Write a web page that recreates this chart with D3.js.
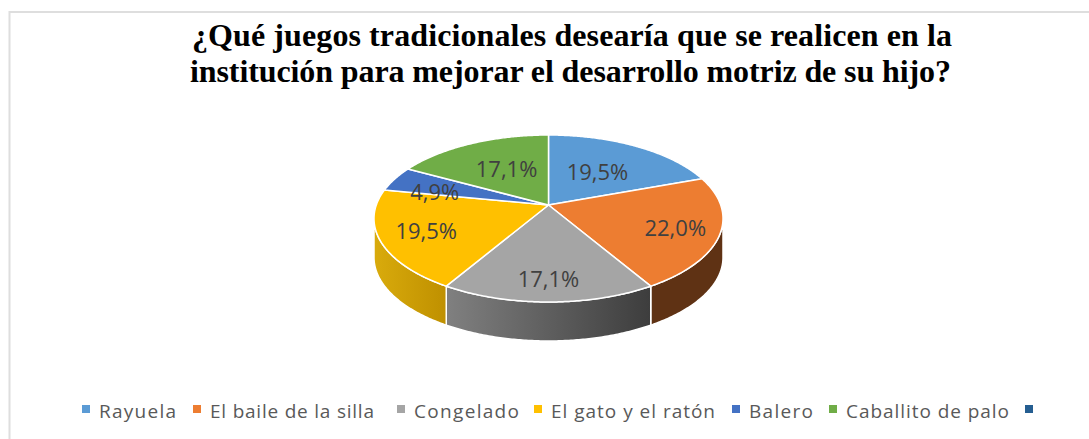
<!DOCTYPE html>
<html>

<head>
    <meta charset="UTF-8">
    <style>
        html, body { margin: 0; padding: 0; background: #fff; }
        svg { display: block; }
        .title { font-family: "Liberation Serif", serif; font-weight: bold; font-size: 32px; fill: #000; text-anchor: start; }
        .pct { font-family: "Open Sans", sans-serif; font-size: 22px; fill: #404040; text-anchor: middle; }
        .legend { font-family: "Open Sans", sans-serif; font-size: 19px; fill: #595959; }
    </style>
</head>

<body>
    <svg></svg>
    <script src="https://d3js.org/d3.v7.min.js"></script>

    <script>
        let width = 1089, height = 439;

        // chart values
        const categories = ["Rayuela", "El baile de la silla", "Congelado", "El gato y el ratón", "Balero", "Caballito de palo", ""];
        const percents = [19.5, 22.0, 17.1, 19.5, 4.9, 17.1, 0];
        const labels = ["19,5%", "22,0%", "17,1%", "19,5%", "4,9%", "17,1%"];
        const colors = ["#5b9bd5", "#ed7d31", "#a5a5a5", "#ffc000", "#4472c4", "#70ad47", "#255e91"];
        const titleLines = ["¿Qué juegos tradicionales desearía que se realicen en la", "institución para mejorar el desarrollo motriz de su hijo?"];

        // where the label sits along the slice radius, plus a small nudge down
        const labelRadius = [0.53, 0.75, 0.78, 0.74, 0.73, 0.51];
        const labelNudge = [0, 2, 1, 0, 6, -3];

        const legendX = [82, 193, 397, 534, 732, 829, 1025];
        const legendW = [77, 164, 105, 164, 64, 163, 0];

        let svg = d3.select("svg").attr("width", width).attr("height", height);

        // gradients for the visible side walls
        let defs = svg.append("defs");
        function sideGradient(id, from, to) {
            let g = defs.append("linearGradient").attr("id", id);
            g.append("stop").attr("offset", "0%").attr("stop-color", from);
            g.append("stop").attr("offset", "100%").attr("stop-color", to);
        }
        sideGradient("sideYellow", "#d9ab0c", "#bf9000");
        sideGradient("sideGray", "#808080", "#3d3d3d");
        sideGradient("sideOrange", "#5f3214", "#5f3214");
        const sideFill = { 1: "url(#sideOrange)", 2: "url(#sideGray)", 3: "url(#sideYellow)" };

        // frame, open on the right and at the bottom of the crop
        svg.append("rect")
            .attr("x", 9.5).attr("y", 12)
            .attr("width", width + 20).attr("height", height + 20)
            .attr("fill", "#fff").attr("stroke", "#dedede").attr("stroke-width", 2);

        // title
        svg.selectAll(".title")
            .data(titleLines)
            .enter()
            .append("text")
            .attr("class", "title")
            .attr("x", (d, i) => i == 0 ? 192 : 190)
            .attr("y", (d, i) => 46 + i * 36)
            .attr("textLength", (d, i) => i == 0 ? 760 : 761)
            .attr("lengthAdjust", "spacing")
            .text(d => d);

        // perspective tilt of the pie disc
        const cx = 548.5, cy = 205, a = 172.2, b = 81.3, k = 0.1617, depth = 39;
        function project(angle, r, drop) {
            let u = r * Math.sin(angle), v = -r * Math.cos(angle), w = 1 - k * v;
            return [cx + a * u / w, cy + b * v / w + (drop || 0)];
        }

        let pie = d3.pie().sort(null).value(d => d)(percents.slice(0, 6));
        let line = d3.line();

        function arcPoints(start, end, drop) {
            let n = Math.max(2, Math.ceil((end - start) / 0.01));
            return d3.range(n + 1).map(i => project(start + (end - start) * i / n, 1, drop));
        }

        // side walls, only the front part of the rim shows
        let rimStart = Math.PI / 2 + Math.asin(k), rimEnd = 3 * Math.PI / 2 - Math.asin(k);
        svg.append("g").attr("id", "sides")
            .selectAll("path")
            .data(pie.filter(d => d.endAngle > rimStart && d.startAngle < rimEnd))
            .enter()
            .append("path")
            .attr("d", d => {
                let s = Math.max(d.startAngle, rimStart), e = Math.min(d.endAngle, rimEnd);
                return line(arcPoints(s, e, 0).concat(arcPoints(s, e, depth).reverse())) + "Z";
            })
            .attr("fill", d => sideFill[d.index])
            .attr("stroke", "#fff")
            .attr("stroke-width", 1.5);

        // top of the pie
        svg.append("g").attr("id", "slices")
            .selectAll("path")
            .data(pie)
            .enter()
            .append("path")
            .attr("d", d => line([project(0, 0)].concat(arcPoints(d.startAngle, d.endAngle, 0))) + "Z")
            .attr("fill", d => colors[d.index])
            .attr("stroke", "#fff")
            .attr("stroke-width", 1.5)
            .attr("stroke-linejoin", "round");

        // value labels
        svg.append("g").attr("id", "labels")
            .selectAll("text")
            .data(pie)
            .enter()
            .append("text")
            .attr("class", "pct")
            .attr("x", d => project((d.startAngle + d.endAngle) / 2, labelRadius[d.index])[0])
            .attr("y", d => project((d.startAngle + d.endAngle) / 2, labelRadius[d.index])[1] + 8 + labelNudge[d.index])
            .text(d => labels[d.index]);

        // legend
        let legend = svg.append("g").attr("id", "legend")
            .selectAll("g")
            .data(categories)
            .enter()
            .append("g")
            .attr("transform", (d, i) => "translate(" + legendX[i] + ",405)");

        legend.append("rect")
            .attr("width", 8)
            .attr("height", 8)
            .attr("fill", (d, i) => colors[i]);

        legend.filter(d => d != "")
            .append("text")
            .attr("class", "legend")
            .attr("x", 17)
            .attr("y", 13)
            .attr("textLength", (d, i) => legendW[i])
            .attr("lengthAdjust", "spacing")
            .text(d => d);
    </script>

</body>

</html>
